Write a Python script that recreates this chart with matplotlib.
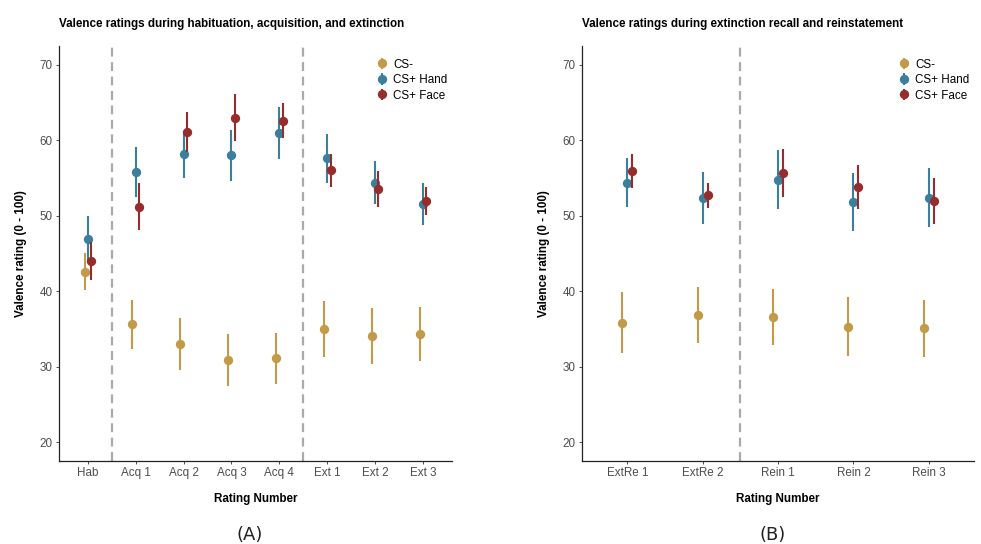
import numpy as np
import matplotlib.pyplot as plt

plt.rcParams['font.family'] = ['Liberation Sans', 'DejaVu Sans']

# ---- data (means and half-widths of the error bars) ----
labels_a = ['Hab', 'Acq 1', 'Acq 2', 'Acq 3', 'Acq 4', 'Ext 1', 'Ext 2', 'Ext 3']
csm_a = [42.6, 35.6, 33.0, 30.9, 31.1, 35.0, 34.1, 34.3]
csm_a_err = [2.4, 3.2, 3.5, 3.4, 3.4, 3.75, 3.7, 3.55]
hand_a = [46.9, 55.8, 58.15, 58.0, 61.0, 57.6, 54.4, 51.6]
hand_a_err = [3.1, 3.35, 3.1, 3.35, 3.45, 3.25, 2.85, 2.8]
face_a = [44.0, 51.2, 61.1, 63.0, 62.6, 56.0, 53.5, 52.0]
face_a_err = [2.5, 3.1, 2.7, 3.1, 2.35, 2.2, 2.4, 1.85]

labels_b = ['ExtRe 1', 'ExtRe 2', 'Rein 1', 'Rein 2', 'Rein 3']
csm_b = [35.8, 36.8, 36.6, 35.3, 35.1]
csm_b_err = [4.05, 3.7, 3.75, 3.9, 3.8]
hand_b = [54.4, 52.4, 54.75, 51.8, 52.4]
hand_b_err = [3.3, 3.45, 3.9, 3.85, 3.95]
face_b = [55.9, 52.7, 55.7, 53.8, 52.0]
face_b_err = [2.25, 1.7, 3.2, 2.9, 3.05]

series_names = ['CS-', 'CS+ Hand', 'CS+ Face']
colors = ['#C29A48', '#3A7F9E', '#962D2D']
dodge = [-0.067, 0.0, 0.067]
fs = 8.4


def panel(ax, labels, series, errs, vlines, title):
    x = np.arange(1, len(labels) + 1)
    for v in vlines:
        ax.axvline(v, color='#AAAAAA', lw=1.6, ls=(0, (4, 2.5)), zorder=1)
    for i in range(3):
        ax.errorbar(x + dodge[i], series[i], yerr=errs[i], fmt='o', color=colors[i],
                    ms=5.7, elinewidth=1.5, capsize=0, label=series_names[i], zorder=2 + i)
    ax.set_xticks(x)
    ax.set_xticklabels(labels)
    ax.set_xlim(0.4, len(labels) + 0.6)
    ax.set_ylim(17.5, 72.5)
    ax.set_yticks([20, 30, 40, 50, 60, 70])
    for s in ['top', 'right']:
        ax.spines[s].set_visible(False)
    for s in ['left', 'bottom']:
        ax.spines[s].set_linewidth(0.9)
        ax.spines[s].set_color('#222222')
    ax.tick_params(labelsize=fs, colors='#4D4D4D', length=2.5, width=0.7, pad=2)
    ax.set_xlabel('Rating Number', fontsize=fs, fontweight='bold', labelpad=10)
    ax.set_ylabel('Valence rating (0 - 100)', fontsize=fs, fontweight='bold', labelpad=9)
    ax.set_title(title, loc='left', fontsize=fs, fontweight='bold', pad=14)
    ax.legend(loc='upper right', bbox_to_anchor=(1.015, 0.995), frameon=False, fontsize=fs,
              handletextpad=0.35, labelspacing=0.3, handlelength=1.2)


fig = plt.figure(figsize=(9.81, 5.44), dpi=100)
ax1 = fig.add_axes([0.0601, 0.1526, 0.4006, 0.7629])
ax2 = fig.add_axes([0.5933, 0.1526, 0.3996, 0.7629])

panel(ax1, labels_a, [csm_a, hand_a, face_a], [csm_a_err, hand_a_err, face_a_err],
      [1.5, 5.5], 'Valence ratings during habituation, acquisition, and extinction')
panel(ax2, labels_b, [csm_b, hand_b, face_b], [csm_b_err, hand_b_err, face_b_err],
      [2.5], 'Valence ratings during extinction recall and reinstatement')

fig.text(250 / 981, 1 - 535 / 544, '(A)', ha='center', va='center', fontsize=13,
         family='DejaVu Sans', color='#222222')
fig.text(773 / 981, 1 - 535 / 544, '(B)', ha='center', va='center', fontsize=13,
         family='DejaVu Sans', color='#222222')

plt.savefig('out.png', dpi=100)
